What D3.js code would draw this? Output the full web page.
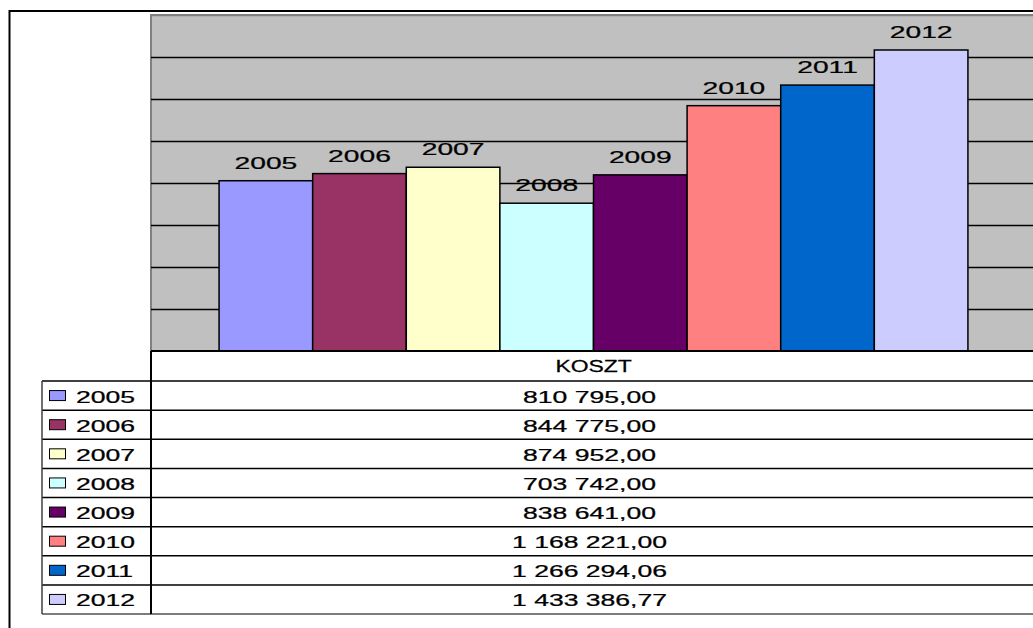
<!DOCTYPE html>
<html>
<head>
<meta charset="utf-8">
<script src="https://cdn.jsdelivr.net/npm/d3@7"></script>
<style>
  body { margin: 0; background: #fff; }
  svg { display: block; }
  text { font-family: "Liberation Sans", Arial, sans-serif; fill: #000; stroke: #000; stroke-width: 0.25; }
</style>
</head>
<body>
<div id="chart"></div>
<script>
// Data
const category = "KOSZT";
const years = ["2005", "2006", "2007", "2008", "2009", "2010", "2011", "2012"];
const costs = [810795.00, 844775.00, 874952.00, 703742.00, 838641.00, 1168221.00, 1266294.06, 1433386.77];
const colors = ["#9999FF", "#993366", "#FFFFCC", "#CCFFFF", "#660066", "#FF8080", "#0066CC", "#CCCCFF"];
const yMax = 1600000;
const yStep = 200000;

const W = 1033, H = 628;
// plot area runs past the right edge of the picture, like the reference
const plot = { left: 151, right: 1036, top: 15, bottom: 351 };
const table = { legendLeft: 42, top: 381, bottom: 614 };
const stretchDigits = 1.66, stretchCaps = 1.43; // reference text is wide

const huLocale = d3.formatLocale({ decimal: ",", thousands: " ", grouping: [3], currency: ["", ""] });
const fmt = huLocale.format(",.2f");

const svg = d3.select("#chart").append("svg")
    .attr("width", W)
    .attr("height", H);

// Scales
const x0 = d3.scaleBand()
    .domain([category])
    .range([plot.left, plot.right])
    .paddingInner(0)
    .paddingOuter(0.0909);
const x1 = d3.scaleBand()
    .domain(years)
    .range([0, x0.bandwidth()]);
const y = d3.scaleLinear()
    .domain([0, yMax])
    .range([plot.bottom, plot.top]);
const rowY = d3.scaleBand()
    .domain(years)
    .range([table.top, table.bottom]);

// Outer frame
svg.append("rect")
    .attr("x", 9.5).attr("y", 11)
    .attr("width", W + 20).attr("height", H + 20)
    .attr("fill", "#fff")
    .attr("stroke", "#000")
    .attr("stroke-width", 2);

// Plot area
svg.append("rect")
    .attr("x", plot.left).attr("y", plot.top)
    .attr("width", plot.right - plot.left).attr("height", plot.bottom - plot.top)
    .attr("fill", "#C0C0C0")
    .attr("stroke", "#808080")
    .attr("stroke-width", 2);

// Gridlines via axis
const ticks = d3.range(yStep, yMax + 1, yStep);
const grid = svg.append("g")
    .attr("transform", `translate(${plot.left},0)`)
    .call(d3.axisRight(y).tickValues(ticks).tickSize(plot.right - plot.left).tickFormat(""));
grid.select(".domain").remove();
grid.selectAll(".tick line").attr("stroke", "#000").attr("stroke-width", 1.3);
grid.selectAll(".tick").filter(d => d === yMax).select("line").attr("stroke", "#808080");

// Bars
const xb = d => x0(category) + x1(d);
svg.append("g").selectAll("rect")
    .data(years)
    .join("rect")
    .attr("x", d => xb(d))
    .attr("y", (d, i) => y(costs[i]))
    .attr("width", x1.bandwidth())
    .attr("height", (d, i) => y(0) - y(costs[i]))
    .attr("fill", (d, i) => colors[i])
    .attr("stroke", "#000")
    .attr("stroke-width", 1.5);

// Bar labels
svg.append("g").selectAll("text")
    .data(years)
    .join("text")
    .attr("transform", (d, i) => `translate(${xb(d) + x1.bandwidth() / 2},${y(costs[i]) - 12}) scale(${stretchDigits},1)`)
    .attr("text-anchor", "middle")
    .attr("font-size", 17)
    .text(d => d);

// Data table
const tbl = svg.append("g");
// header row
tbl.append("line")
    .attr("x1", plot.left).attr("x2", W + 10)
    .attr("y1", plot.bottom).attr("y2", plot.bottom)
    .attr("stroke", "#000").attr("stroke-width", 2);
tbl.append("text")
    .attr("transform", `translate(${x0(category) + x0.bandwidth() / 2},${plot.bottom + 21}) scale(${stretchCaps},1)`)
    .attr("text-anchor", "middle")
    .attr("font-size", 16)
    .text(category);

// horizontal row lines
const rowLines = years.map(d => rowY(d)).concat([table.bottom]);
tbl.selectAll("line.row")
    .data(rowLines)
    .join("line")
    .attr("class", "row")
    .attr("x1", table.legendLeft).attr("x2", W + 10)
    .attr("y1", d => d).attr("y2", d => d)
    .attr("stroke", (d, i) => i === rowLines.length - 1 ? "#505050" : "#000")
    .attr("stroke-width", 1.5);

// vertical lines
tbl.append("line")
    .attr("x1", plot.left).attr("x2", plot.left)
    .attr("y1", plot.bottom).attr("y2", table.bottom)
    .attr("stroke", "#000").attr("stroke-width", 2);
tbl.append("line")
    .attr("x1", table.legendLeft).attr("x2", table.legendLeft)
    .attr("y1", table.top).attr("y2", table.bottom)
    .attr("stroke", "#404040").attr("stroke-width", 1.5);

// legend keys and labels
const rows = tbl.selectAll("g.rowg")
    .data(years)
    .join("g")
    .attr("class", "rowg")
    .attr("transform", d => `translate(0,${rowY(d)})`);
rows.append("rect")
    .attr("x", 49.5).attr("y", rowY.bandwidth() / 2 - 5)
    .attr("width", 16).attr("height", 10)
    .attr("fill", (d, i) => colors[i])
    .attr("stroke", "#000").attr("stroke-width", 1);
rows.append("text")
    .attr("transform", `translate(76,${rowY.bandwidth() / 2 + 7}) scale(${stretchDigits},1)`)
    .attr("font-size", 16)
    .text(d => d);
rows.append("text")
    .attr("transform", `translate(${x0(category) + x0.bandwidth() / 2 - 4},${rowY.bandwidth() / 2 + 7}) scale(${stretchDigits},1)`)
    .attr("text-anchor", "middle")
    .attr("font-size", 16)
    .text((d, i) => fmt(costs[i]));
</script>
</body>
</html>
